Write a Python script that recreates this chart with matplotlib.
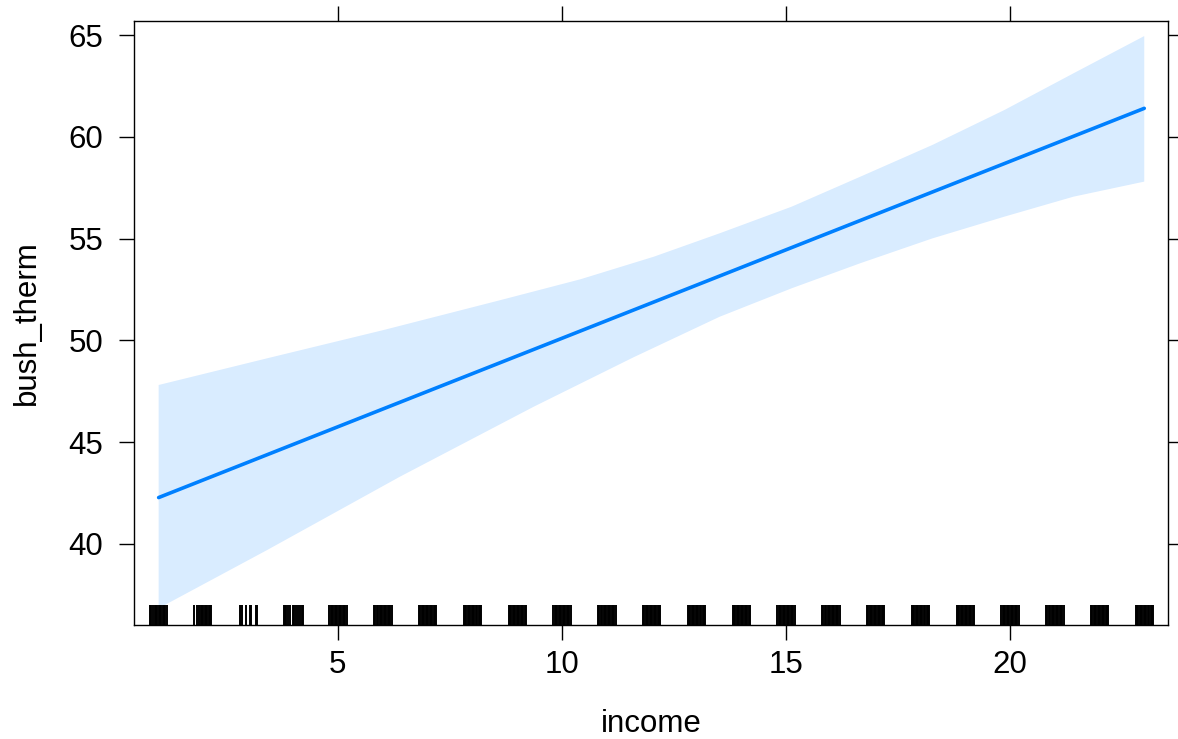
import matplotlib
matplotlib.use("Agg")
import matplotlib.pyplot as plt
import matplotlib.transforms as mtransforms

# fitted effect of income on bush_therm
fit_income = [1, 23]
fit_value = [42.28, 61.40]

# confidence band edges
upper_income = [1.0, 3.42, 6.02, 8.63, 10.41, 12.05, 13.52, 15.13, 16.66, 18.27, 19.88, 21.42, 23.0]
upper_value = [47.81, 49.12, 50.51, 51.98, 53.00, 54.11, 55.26, 56.57, 58.04, 59.60, 61.32, 63.12, 64.95]
lower_income = [1.0, 3.42, 6.39, 9.37, 11.60, 13.52, 15.13, 16.66, 18.27, 19.88, 21.42, 23.0]
lower_value = [36.84, 39.70, 43.31, 46.74, 49.17, 51.16, 52.56, 53.79, 55.01, 56.08, 57.06, 57.80]

# rug of observed income values (jittered)
rug_low = [0.81, 0.84, 0.88, 0.91, 0.94, 0.97, 1.00, 1.03, 1.06, 1.09, 1.12, 1.15, 1.18,
           1.80, 1.85, 1.91, 1.94, 1.97, 2.00, 2.03, 2.06, 2.09, 2.12, 2.15, 2.17,
           2.82, 2.85, 2.94, 3.03, 3.06, 3.17, 3.20,
           3.79, 3.82, 3.85, 3.88, 3.94, 4.00, 4.03, 4.06, 4.12, 4.15, 4.19, 4.22]
rug_centers = [5, 6, 7, 8, 9, 10, 11, 12, 13, 14, 15, 16, 17, 18, 19, 20, 21, 22, 23]
rug_offsets = [-0.19, -0.16, -0.13, -0.10, -0.07, -0.04, -0.01, 0.02, 0.05, 0.08,
               0.11, 0.14, 0.17, 0.20]

x_ticks = [5, 10, 15, 20]
y_ticks = [40, 45, 50, 55, 60, 65]

plt.rcParams["font.family"] = ["Liberation Sans", "DejaVu Sans"]

fig = plt.figure(figsize=(11.78, 7.39), dpi=100)
ax = fig.add_axes([134 / 1178, 1 - 625 / 739, (1168 - 134) / 1178, (625 - 21) / 739])

band_x = upper_income + lower_income[::-1]
band_y = upper_value + lower_value[::-1]
ax.fill(band_x, band_y, color="#0080ff", alpha=0.15, linewidth=0)
ax.plot(fit_income, fit_value, color="#0080ff", lw=2.6, solid_capstyle="round")

rug_x = list(rug_low)
for c in rug_centers:
    for o in rug_offsets:
        rug_x.append(c + o)
trans = mtransforms.blended_transform_factory(ax.transData, ax.transAxes)
ax.vlines(rug_x, 0, 20 / 604, transform=trans, color="black", lw=1.4)

ax.set_xlim(0.45, 23.53)
ax.set_ylim(36.02, 65.69)
ax.set_xticks(x_ticks)
ax.set_yticks(y_ticks)
ax.tick_params(axis="both", direction="out", length=11, width=1.0, labelsize=22.5,
               top=True, right=True, labeltop=False, labelright=False, colors="black")
ax.tick_params(axis="x", pad=7)
ax.tick_params(axis="y", pad=11)
for s in ax.spines.values():
    s.set_linewidth(1.0)
    s.set_color("black")

ax.set_xlabel("income", fontsize=22.5, labelpad=21)
ax.set_ylabel("bush_therm", fontsize=22.5, labelpad=19)

fig.savefig("out.png", dpi=100)
